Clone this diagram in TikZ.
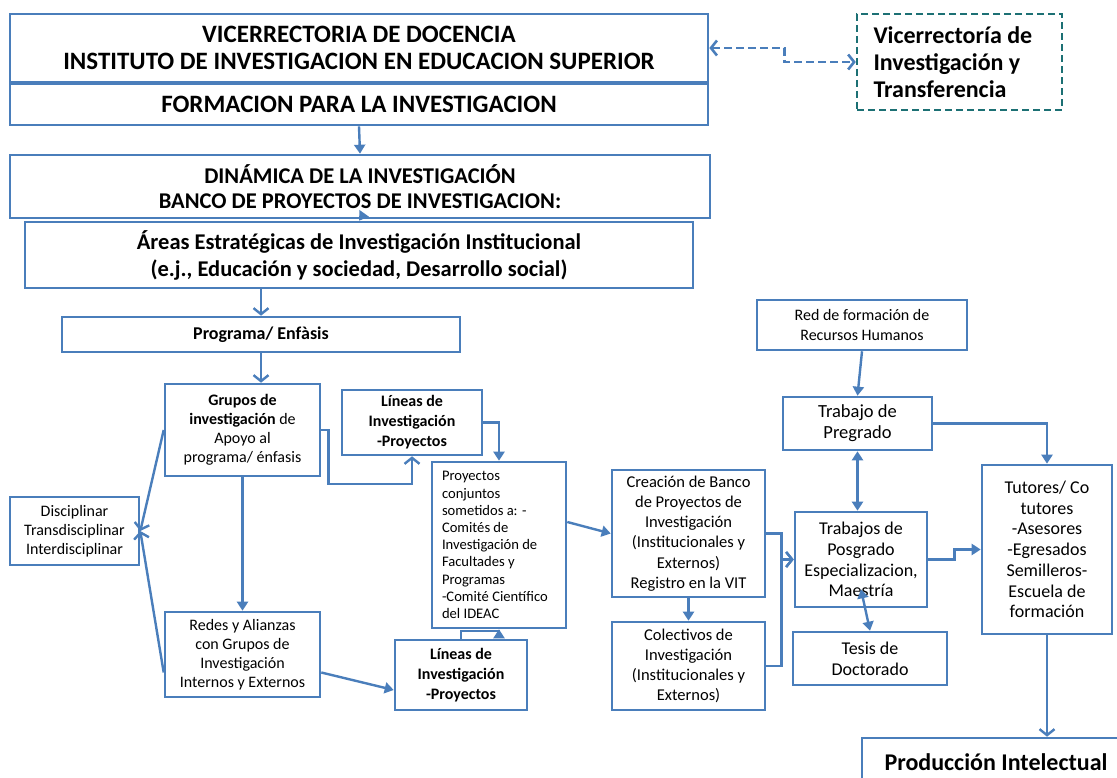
\documentclass[tikz,border=0pt]{standalone}
\usepackage{fontspec}
\setmainfont{Carlito}
\usetikzlibrary{arrows.meta,calc}
\definecolor{azul}{RGB}{74,126,187}
\definecolor{verdeazul}{RGB}{28,112,116}
\newcommand{\letra}[2]{\fontsize{#1}{#2}\selectfont}
\tikzset{
  caja/.style={draw=azul,line width=2.6pt,align=center,inner sep=1pt,text=black},
  flecha/.style={azul,line width=2.4pt,-{Triangle[length=9pt,width=11pt]}},
  abierta/.style={azul,line width=2.4pt,-{Straight Barb[length=6pt,width=15pt]}},
  doble/.style={azul,line width=2.4pt,{Triangle[length=9pt,width=11pt]}-{Triangle[length=9pt,width=11pt]}}
}
\begin{document}
\begin{tikzpicture}[x=1pt,y=-1pt]
\clip (0,0) rectangle (1117,778);
\fill[white] (0,0) rectangle (1117,778);

% bloque superior
\node[caja,minimum width=698,minimum height=68,font=\letra{25}{27}\bfseries] (vice) at (359,48)
  {VICERRECTORIA DE DOCENCIA\\INSTITUTO DE INVESTIGACION EN EDUCACION SUPERIOR};
\node[caja,minimum width=698,minimum height=41,font=\letra{25}{27}\bfseries] (form) at (359,104.5)
  {FORMACION PARA LA INVESTIGACION};
\node[caja,minimum width=700,minimum height=63,font=\letra{22.5}{25}\bfseries] (din) at (360,186.5)
  {DINÁMICA DE LA INVESTIGACIÓN\\BANCO DE PROYECTOS DE INVESTIGACION:};
\node[caja,minimum width=668,minimum height=66,font=\letra{22.5}{27}\bfseries] (areas) at (359,255)
  {Áreas Estratégicas de Investigación Institucional\\(e.j., Educación y sociedad, Desarrollo social)};
\node[draw=verdeazul,line width=2.4pt,dash pattern=on 7pt off 4pt,minimum width=205,minimum height=96,
  text width=172,align=flush left,font=\letra{24}{27}\bfseries] (vii) at (959.5,62)
  {Vicerrectoría de\\Investigación y\\Transferencia};

% columna izquierda
\node[caja,minimum width=398,minimum height=35,font=\letra{18}{20}\bfseries] (prog) at (261,334.5) {Programa/ Enfàsis};
\node[caja,minimum width=155,minimum height=92,font=\letra{16}{19}] (grupos) at (242.5,430)
  {\textbf{Grupos de}\\\textbf{investigación} de\\Apoyo al\\programa/ énfasis};
\node[caja,minimum width=140,minimum height=65,font=\letra{16}{20}\bfseries] (lineasA) at (412,422.5)
  {Líneas de\\Investigación\\-Proyectos};
\node[caja,minimum width=129,minimum height=68,font=\letra{16}{19}] (disc) at (74.5,531)
  {Disciplinar\\Transdisciplinar\\Interdisciplinar};
\node[caja,minimum width=155,minimum height=85,font=\letra{16}{19}] (redes) at (242.5,654.5)
  {Redes y Alianzas\\con Grupos de\\Investigación\\Internos y Externos};
\node[caja,minimum width=132,minimum height=70,font=\letra{16}{20}\bfseries] (lineasB) at (461,675)
  {Líneas de\\Investigación\\-Proyectos};
\node[caja,minimum width=134,minimum height=166,text width=114,align=flush left,font=\letra{14.6}{17.2}] (proy) at (499,545)
  {Proyectos\\conjuntos\\sometidos a: -\\Comités de\\Investigación de\\Facultades y\\Programas\\-Comité Científico\\del IDEAC};

% columna derecha
\node[caja,minimum width=153,minimum height=127,font=\letra{16.5}{20.2}] (banco) at (688.5,533.5)
  {Creación de Banco\\de Proyectos de\\Investigación\\(Institucionales y\\Externos)\\Registro en la VIT};
\node[caja,minimum width=153,minimum height=88,font=\letra{16.5}{20.2}] (colect) at (688.5,666)
  {Colectivos de\\Investigación\\(Institucionales y\\Externos)};
\node[caja,minimum width=210,minimum height=50,font=\letra{16}{20}] (red) at (862,325)
  {Red de formación de\\Recursos Humanos};
\node[caja,minimum width=149,minimum height=53,font=\letra{18.5}{21}] (pregrado) at (857.5,423.5)
  {Trabajo de\\Pregrado};
\node[caja,minimum width=132,minimum height=95,font=\letra{18}{20.7}] (posgrado) at (861,559.5)
  {Trabajos de\\Posgrado\\Especializacion,\\Maestría};
\node[caja,minimum width=154,minimum height=53,font=\letra{18}{21}] (tesis) at (870,658.5)
  {Tesis de\\Doctorado};
\node[caja,minimum width=130,minimum height=169,font=\letra{18}{20.7}] (tutores) at (1047,549.5)
  {Tutores/ Co\\tutores\\-Asesores\\-Egresados\\Semilleros-\\Escuela de\\formación};
\node[caja,minimum width=268,minimum height=48,font=\letra{24}{27}\bfseries] (produc) at (996,762)
  {Producción Intelectual};

% conectores
\draw[azul,line width=2.6pt,dash pattern=on 8pt off 4pt,{Straight Barb[length=6pt,width=15pt]}-{Straight Barb[length=6pt,width=15pt]}]
  (vice.east) -- ++(75,0) |- (vii.west);
\draw[flecha] (form.south) -- (din.north);
\draw[flecha] (din.south) -- (areas.north);
\draw[abierta] (areas.south -| prog.north) -- (prog.north);
\draw[abierta] (prog.south) -- (prog.south |- grupos.north);
\draw[abierta] (grupos.east) -| ++(7,54) -| (lineasA.south);
\draw[flecha] (lineasA.east) -| (proy.north);
\draw[abierta] (grupos.west) -- (disc.east);
\draw[abierta] ([yshift=-18pt]redes.west) -- (disc.east);
\draw[flecha] (grupos.south) -- (redes.north);
\draw[flecha] ([yshift=-18pt]redes.east) -- ([yshift=-15pt]lineasB.west);
\draw[flecha] (lineasB.north) -- ++(0,-8) -| (proy.south);
\draw[flecha] ([yshift=23pt]proy.east) -- (banco.west);
\draw[flecha] (banco.south) -- (colect.north);
\draw[abierta] (banco.east) -- ++(15,0) |- (posgrado.west);
\draw[abierta] (colect.east) -- ++(15,0) |- (posgrado.west);
\draw[flecha] (red.south) -- (pregrado.north);
\draw[doble] (pregrado.south) -- (pregrado.south |- posgrado.north);
\draw[flecha] (pregrado.east) -| (tutores.north);
\draw[doble] ([yshift=19pt]posgrado.south) -- (tesis.north);
\draw[flecha] (posgrado.east) -- ++(26,0) |- (tutores.west);
\draw[abierta] (tutores.south) -- (tutores.south |- produc.north);
\end{tikzpicture}
\end{document}
